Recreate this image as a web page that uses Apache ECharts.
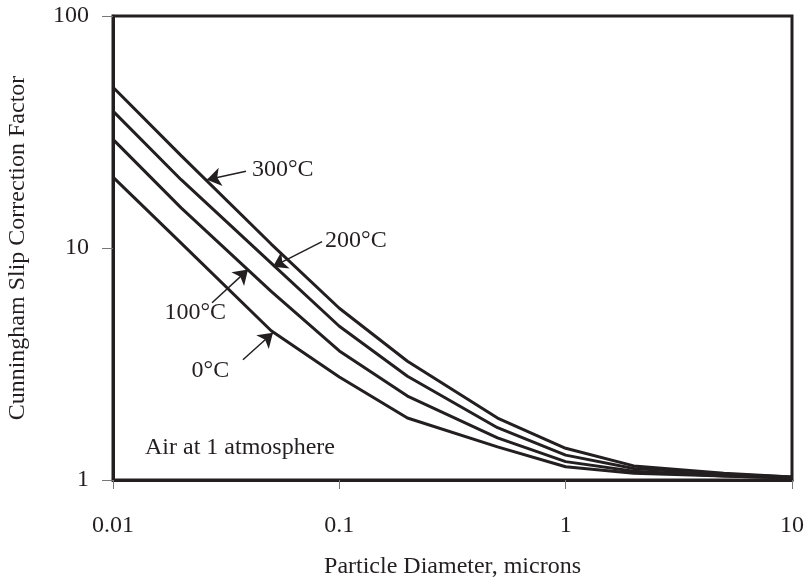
<!DOCTYPE html>
<html lang="en">
<head>
<meta charset="UTF-8">
<title>Cunningham Slip Correction Factor</title>
<style>
  body { margin: 0; background: #fff; }
  #chart { width: 811px; height: 579px; }
</style>
</head>
<body>
<div id="chart"></div>
<script src="https://cdn.jsdelivr.net/npm/echarts/dist/echarts.min.js"></script>
<script>
  // particle diameter, microns
  var diameters = [0.01, 0.02, 0.05, 0.1, 0.2, 0.5, 1, 2, 5, 10]
  // slip correction factor
  var cc0C   = [20.2, 10.5, 4.4, 2.78, 1.85, 1.39, 1.14, 1.07, 1.04, 1.02]
  var cc100C = [29.4, 14.9, 6.5, 3.6, 2.3, 1.52, 1.2, 1.09, 1.04, 1.02]
  var cc200C = [38.9, 19.7, 8.6, 4.6, 2.8, 1.68, 1.28, 1.12, 1.06, 1.03]
  var cc300C = [49.3, 25, 10.4, 5.5, 3.25, 1.85, 1.37, 1.15, 1.07, 1.03]
  var xTicks = ['0.01', '0.1', '1', '10']
  var yTicks = ['1', '10', '100']

  var ink = '#231f20'
  var serif = '"Liberation Serif", "DejaVu Serif", serif'

  function pairs(ys) {
    var out = []
    for (var i = 0; i < diameters.length; i++) out.push([diameters[i], ys[i]])
    return out
  }

  // arrows: [tail, tip] in data units
  var arrows = [
    [[0.0387, 21.4], [0.026, 19.7]],
    [[0.0839, 10.66], [0.0509, 8.31]],
    [[0.0274, 5.81], [0.0395, 8.07]],
    [[0.0375, 3.30], [0.0509, 4.31]]
  ]
  // labels: text, anchor (data units), align
  var labels = [
    ['300°C', [0.0411, 21.8], 'left'],
    ['200°C', [0.0865, 10.76], 'left'],
    ['100°C', [0.0316, 5.26], 'right'],
    ['0°C', [0.0326, 2.96], 'right'],
    ['Air at 1 atmosphere', [0.01385, 1.375], 'left']
  ]

  var myChart = echarts.init(document.getElementById('chart'))

  function curve(name, ys) {
    return {
      name: name,
      type: 'line',
      data: pairs(ys),
      showSymbol: false,
      smooth: false,
      silent: true,
      lineStyle: { color: ink, width: 3 },
      itemStyle: { color: ink }
    }
  }

  var series = [
    curve('0°C', cc0C),
    curve('100°C', cc100C),
    curve('200°C', cc200C),
    curve('300°C', cc300C)
  ]
  series[0].markLine = {
    silent: true,
    symbol: ['none', 'arrow'],
    symbolSize: 14,
    label: { show: false },
    lineStyle: { color: ink, width: 1.5, type: 'solid' },
    data: arrows.map(function (a) {
      return [{ coord: a[0] }, { coord: a[1] }]
    })
  }

  var option = {
    animation: false,
    grid: {
      left: 113, right: 19, top: 16, bottom: 99,
      outerBoundsMode: 'none',
      containLabel: false,
      show: true, borderColor: ink, borderWidth: 3
    },
    xAxis: {
      type: 'log',
      logBase: 10,
      min: 0.01,
      max: 10,
      name: 'Particle Diameter, microns',
      nameLocation: 'middle',
      nameGap: 75,
      nameTextStyle: { fontFamily: serif, fontSize: 24, color: ink },
      axisLine: { show: true, lineStyle: { color: ink, width: 3 } },
      axisTick: { show: true, length: 9, lineStyle: { color: '#777', width: 1 } },
      minorTick: { show: false },
      splitLine: { show: false },
      axisLabel: {
        margin: 34,
        fontFamily: serif, fontSize: 24, color: ink,
        formatter: function (v) { return xTicks[Math.round(Math.log10(v)) + 2] }
      }
    },
    yAxis: {
      type: 'log',
      logBase: 10,
      min: 1,
      max: 100,
      name: 'Cunningham Slip Correction Factor',
      nameLocation: 'middle',
      nameGap: 83,
      nameTextStyle: { fontFamily: serif, fontSize: 24, color: ink },
      axisLine: { show: true, lineStyle: { color: ink, width: 3 } },
      axisTick: { show: true, length: 11, lineStyle: { color: '#777', width: 1 } },
      minorTick: { show: false },
      splitLine: { show: false },
      axisLabel: {
        margin: 24,
        fontFamily: serif, fontSize: 24, color: ink,
        formatter: function (v) { return yTicks[Math.round(Math.log10(v))] }
      }
    },
    series: series
  }
  myChart.setOption(option)

  // place the curve labels at data positions
  var graphic = labels.map(function (l) {
    var p = myChart.convertToPixel({ gridIndex: 0 }, l[1])
    return {
      type: 'text',
      x: p[0], y: p[1],
      silent: true,
      style: {
        text: l[0],
        fill: ink,
        font: '24px ' + serif,
        textAlign: l[2],
        textVerticalAlign: 'middle'
      }
    }
  })
  myChart.setOption({ graphic: graphic })
</script>
</body>
</html>
